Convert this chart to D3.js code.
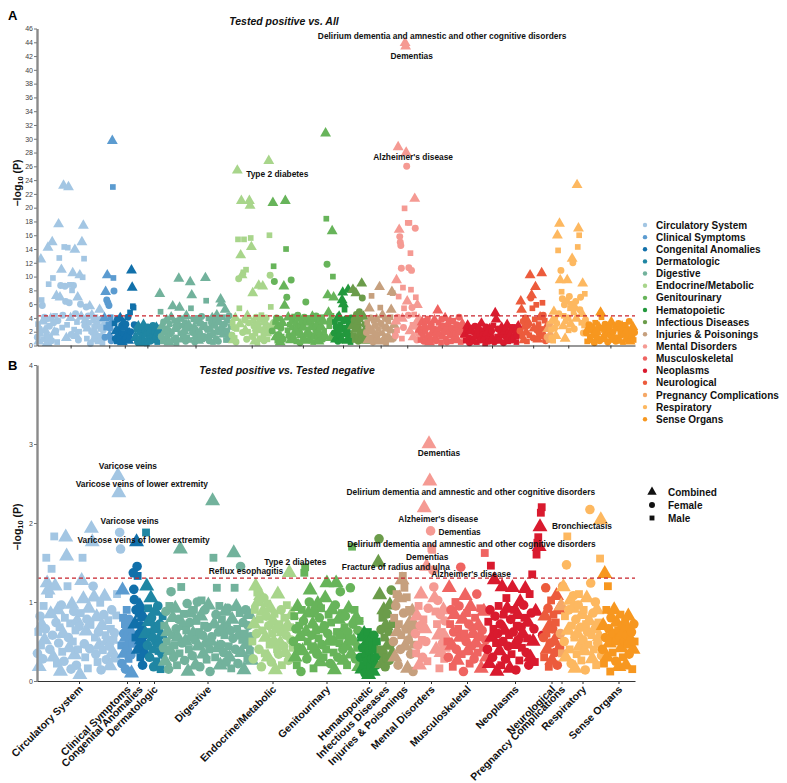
<!DOCTYPE html>
<html><head><meta charset="utf-8">
<script src="https://cdn.jsdelivr.net/npm/d3@7"></script>
<style>body{margin:0;background:#fff;font-family:"Liberation Sans",Arial,Helvetica,sans-serif}</style>
</head><body><svg id="c" width="787" height="783"></svg>
<script>
const categories = ["Circulatory System","Clinical Symptoms","Congenital Anomalies","Dermatologic","Digestive","Endocrine/Metabolic","Genitourinary","Hematopoietic","Infectious Diseases","Injuries & Poisonings","Mental Disorders","Musculoskeletal","Neoplasms","Neurological","Pregnancy Complications","Respiratory","Sense Organs"];
const colors = ["#a3c6e3","#5b9bd0","#1170aa","#1f86a3","#72b29c","#a8d58b","#67b45a","#22983d","#6b9c4a","#c6a07e","#f59a93","#ef6461","#d91a2e","#ec5b3c","#f5a867","#fdb860","#f7971f"];
const shapeLabels = ["Combined","Female","Male"];
// number of phecodes per category in each analysis
const countsA = [67,10,21,24,72,40,62,18,14,29,24,45,55,27,4,35,49];
const countsB = [84,12,12,18,89,41,67,18,15,22,32,40,56,17,3,39,33];
const ticksA = [0,2,4,6,8,10,12,14,16,18,20,22,24,26,28,30,32,34,36,38,40,42,44,46];
const ticksB = [0,1,2,3,4];
const thresholdA = 4.3, thresholdB = 1.301;
// point codes: t = Combined, c = Female, s = Male, followed by -log10(P)
const A_circ = "c1.2 s3.1 t0.6 c2.4 s1.7 t12.5 s6.6 c5.8 t3.5 s0.9 c4.1 t2.2 s3.8 c1.5 t0.4 t14.2 s8.9 c2.8 s1.2 t3.9 c0.7 t15.0 s9.8 c3.3 t1.9 s4.3 c2.1 t7.2 s0.5 c3.6 t17.6 s12.7 t7.0 c8.7 t11.0 s2.6 c4.4 t23.2 s14.3 c8.6 c6.4 t1.1 s3.0 s14.2 t23.0 c6.2 s8.8 t4.0 c1.6 s8.0 t10.5 c8.7 s2.3 t13.9 c4.6 t1.4 s3.4 t7.0 c0.8 s2.0 t10.2 c6.0 t4.2 t15.0 s9.9 t17.4 s12.6 c2.9 t3.7 c5.6 s1.0 t2.5 c4.3 s3.3 t5.7 c0.3 s2.1 t4.4 c1.9 s3.6 t0.9 c2.7 s4.1 t1.6 c3.2 s0.6 t2.9 c1.3 t5.2 s2.4 c3.8 t1.2 s0.4 c2.2 t3.0".split(" ");
const A_clin = "t4.0 c1.2 t7.8 s2.6 c6.6 t10.2 c6.2 s3.1 c5.8 t1.4 c2.5 s4.1 c0.7 t3.3 t29.7 s23.0 s9.8 c7.9".split(" ");
const A_cong = "s3.2 c1.0 t2.1 s0.6 c3.8 t1.5 s2.4 c0.9 t4.0 s1.8 c2.9 t0.5 s3.5 c1.7 t2.6 s0.8 c3.1 t1.3 s2.2 c4.1 t0.7 s1.5 s4.8 c2.0 t10.9 t8.4 s5.7 s5.5 c3.0 t1.1".split(" ");
const A_derm = "t1.2 s2.3 c0.5 t2.8 s1.0 c1.9 t0.4 s2.6 c1.4 t3.0 s0.7 c2.1 t1.6 s0.3 c2.7 t1.0 s1.8 c0.6 t2.4 s1.3 c2.9 t0.8 s2.0 c1.1 t2.6 s0.5 c1.7 t2.2".split(" ");
const A_dig = "t7.5 s4.9 c1.3 t2.8 s0.6 c3.4 t1.9 s2.5 c0.9 t3.7 s1.4 c2.2 t0.5 s3.1 c1.7 t4.1 s2.0 t5.7 c0.8 s3.6 t2.4 c1.1 s0.4 t3.3 c2.7 t9.7 t5.5 s1.8 c3.9 t0.9 s2.9 c1.5 t2.1 s3.4 c0.6 t4.3 s1.2 c2.5 t3.0 s0.8 t9.2 s5.4 t7.3 c1.9 s3.8 t2.6 c0.5 s2.3 t1.4 c3.5 s4.0 t0.7 c2.0 s1.6 t3.2 c4.2 s0.9 t2.7 c1.3 s3.0 t9.8 s6.5 c2.4 t1.1 s3.9 c0.7 t2.3 s1.5 c3.3 t4.0 s0.5 c1.8 t2.9 s3.7 c1.0 t4.4 s2.2 c0.6 t3.4 s1.9 t6.7 t6.1 c2.6 s4.1 t1.6 c3.1 t5.2 s0.8 c2.1 t3.6 s1.3 c4.3 t0.9 s2.7 c1.5".split(" ");
const A_endo = "c1.5 s3.2 t0.8 c2.6 s1.1 t4.0 c0.5 s2.4 t25.4 s15.4 c9.7 s5.4 t3.1 t13.1 t21.0 t10.2 c1.9 s10.6 s15.4 c3.7 t2.2 s11.0 c0.9 t4.3 s2.0 c3.3 t21.0 t20.3 s15.6 t14.3 c1.3 t7.6 s3.6 c2.8 t0.6 s1.7 c4.1 t2.5 s0.4 c3.0 t8.7 s2.2 c1.0 t3.8 s4.4 c2.3 t8.6 s1.4 c0.7 t3.4 s2.7 c4.0 t1.8 s0.9 c2.1 t26.8 s16.0 c10.2 s5.6 t2.9".split(" ");
const A_geni = "c2.1 t20.7 s11.5 c9.3 s3.4 t1.2 c4.0 s0.7 t2.8 c1.6 s3.9 t0.5 c2.5 s1.3 t3.3 c0.9 t8.6 t5.8 t21.0 s14.0 c7.0 s2.2 t4.1 c1.4 s3.0 t0.8 c9.5 s2.6 t3.6 c1.1 s4.2 t1.9 c3.2 s0.6 t2.4 c4.4 s1.8 t3.9 c0.4 s2.9 t1.5 c3.5 s1.0 t2.6 c4.1 t0.7 c6.3 s3.3 c1.7 t2.0 s4.0 c0.8 t3.4 s1.5 c2.7 t4.2 s0.5 c3.8 t1.3 s2.3 c4.3 t3.0 s1.2 c2.0 t0.6 s3.7 c1.5 t2.7 s4.1 c0.9 t3.5 s2.1 c1.3 t30.8 s18.4 c11.8 t7.3 t4.8 s2.8 c3.6 t1.1 s4.3 t16.6 s10.0 t7.0".split(" ");
const A_hema = "c1.8 s3.4 t0.9 c2.7 s1.3 t3.9 c0.6 s2.2 t4.2 c1.5 s3.0 t2.4 c0.8 t6.6 t7.7 t6.0 c3.6 s5.2 t1.7 s2.6 c3.9 t0.7 c2.0 t8.1 s1.4 c3.2 t2.9 s0.5 c4.0 t1.2".split(" ");
const A_infe = "t2.8 t8.1 s1.5 c3.7 s0.8 t2.3 t7.6 c4.5 s1.2 t3.3 c0.6 s2.6 c4.9 t1.8 s3.8 c0.9 t9.0 c6.9 s2.0 t4.2 c1.4 s3.1 t0.7 c2.4".split(" ");
const A_inju = "c1.9 s3.3 t0.8 c2.6 t5.4 s1.2 c4.0 s7.2 t2.1 c0.5 s3.6 t1.4 c2.9 s0.9 t3.8 c1.6 s2.4 t0.6 t8.5 s5.5 c3.2 s1.8 t4.4 c0.7 s2.7 t1.1 c3.9 s0.4 t2.5 c1.3 s3.5 t0.9 c2.2 s4.1 t5.2 t7.8 s7.6 c1.0 t3.0 s2.0".split(" ");
const A_ment = "c1.4 t3.5 t9.5 s2.2 c4.1 t28.8 s7.1 t16.8 c15.8 c15.0 c14.5 c11.2 s1.0 t3.9 s8.4 c2.6 s5.4 s19.9 t43.9 t43.4 t28.0 c26.0 t6.4 s17.8 c4.4 c11.3 s17.8 t2.1 s13.4 s8.1 c10.9 c5.5 s3.0 t1.2 c2.8 s4.5 t21.3 c17.0 s7.0 t3.3 c0.8 t5.9 s2.4 c1.7 t3.8".split(" ");
const A_musc = "t2.3 s0.8 c1.9 t3.4 s1.5 c0.6 t2.8 s2.1 c3.6 t1.0 s3.9 c1.4 t0.5 s2.6 c3.1 t1.8 s0.9 c2.4 t3.7 s1.2 c0.7 t2.0 t5.1 s3.3 c1.6 t2.5 s0.4 c3.8 t1.3 s2.9 c2.0 t4.0 s1.0 c0.5 t2.7 s3.2 c1.8 t3.5 s0.6 c2.5 t1.5 s3.6 c0.9 t2.2 s1.7 c3.0 t0.8 s2.4 c4.1 t1.9 s0.5 c2.9 t3.1 s1.4 c2.2".split(" ");
const A_neop = "t1.6 s0.7 c2.3 t2.9 s1.2 c0.4 t2.1 s2.6 c1.0 t0.6 s1.9 c2.8 t1.3 s0.5 c2.0 t2.5 s1.4 c0.8 t3.2 s2.2 c1.6 t0.9 s0.3 c2.7 t1.8 s1.1 c0.6 t2.4 s1.7 c2.1 t1.0 s2.9 c0.5 t4.7 t3.8 s1.3 c2.4 t0.7 s0.9 c1.8 t2.6 s1.5 c0.4 t2.0 s2.4 c1.2 t3.0 s0.6 c1.9 t1.4 s2.7 c0.8 t2.2 s1.0 c2.6 t1.7 s0.5 c1.4 t2.8 s2.0".split(" ");
const A_neur = "c2.1 t6.4 t5.2 s1.3 c3.5 t0.8 s2.7 c4.0 t1.9 s0.6 c2.9 t3.3 s1.5 t10.2 c6.9 t7.3 s5.4 c1.1 t2.5 s3.8 t8.5 s5.9 c2.2 t0.9 s3.1 c1.7 t4.1 s2.4 t10.5 s6.2 c4.4 t1.4 s3.6 c0.7 t2.6".split(" ");
const A_preg = "c1.2 t2.4 s0.8 c3.1 t1.6".split(" ");
const A_resp = "s2.3 c1.1 t3.6 s0.7 t4.9 c2.5 s3.9 t1.4 c3.2 t16.0 s13.8 c4.6 t17.7 t9.5 c10.9 s7.8 c6.8 t2.8 s4.3 c5.9 t1.0 s3.5 c6.5 t9.5 c4.0 s2.2 c7.1 s5.4 t3.1 c6.0 t12.6 c12.0 s4.8 c2.4 t5.5 c6.4 t3.9 t23.3 s14.3 t17.0 s16.0 c5.2 c7.0 s3.3 t4.6 t9.0 c1.8 s2.9 s7.5 c3.7".split(" ");
const A_sens = "c1.8 s0.6 t2.4 c3.0 s1.3 t0.8 c2.2 s2.8 t1.5 c0.4 s3.3 t2.0 c1.1 s1.9 t2.7 c0.7 t4.8 s4.1 c2.5 t1.2 s0.9 c3.1 t2.3 s1.6 c0.5 t1.9 s2.6 c1.4 t3.4 s0.8 c2.0 t1.0 s2.9 c0.6 t2.5 s1.2 c3.2 t0.7 s2.1 c1.5 t2.8 s0.5 c2.4 t1.7 s3.0 c0.9 t2.2 s1.4 c3.5 t0.6 s2.0 c1.3 t2.7 s0.8 c1.9".split(" ");

const B_circ = "c0.35 s0.62 t0.18 c0.82 s0.45 t0.71 c0.28 s0.95 t0.52 c0.66 s1.56 t1.24 t1.15 s1.1 c0.4 t0.85 s1.42 c0.58 t0.3 s1.83 t1.2 c0.74 s0.22 t0.9 c0.48 s0.68 t0.12 c0.96 s0.37 t0.6 c0.25 s0.8 t1.82 t1.58 s1.2 c0.55 t0.42 s0.73 c0.15 t0.97 s0.5 c0.88 t0.33 s0.64 c0.2 t0.76 s0.4 c0.69 t0.08 s0.86 t1.27 s1.56 t1.04 c0.47 s0.3 t0.63 c0.78 s0.16 t0.92 c0.41 s0.71 t1.93 t1.76 c1.2 t1.06 s0.55 c0.34 t0.81 s0.24 c0.62 t0.45 s0.99 c0.14 t0.7 s0.39 c0.84 t1.07 s0.58 c0.27 t0.51 s0.77 c0.44 t0.19 s0.66 c0.9 t0.36 s0.52 c0.61 t0.29 s0.83 s1.1 t2.6 t2.38 c1.88 c1.67".split(" ");
const B_clin = "s0.45 c0.22 t1.15 s0.8 c0.6 t0.35 s0.72 c0.15 t0.55 s0.9 c0.4 t0.68 s0.28 c0.78 t0.5 s0.62 c0.33 t0.1 s0.47 c0.58".split(" ");
const B_cong = "c1.37 c1.16 c1.03 t0.72 s0.55 c0.9 t1.76 c1.45 s1.33 t0.4 s0.85 c0.6 t0.95 s0.3 c0.7 t0.52 s0.66 c0.2 t0.81 s0.44 c0.58 t0.35".split(" ");
const B_derm = "t0.6 s1.88 t1.2 c0.45 s0.92 t0.75 c0.3 s0.62 t1.05 c0.8 s0.4 t0.55 c0.18 s0.7 t0.88 c0.5 s0.25 t0.66 c0.95 s0.38 t0.48 c0.72 s0.15 t0.58 c0.34 s0.82".split(" ");
const B_dig = "c0.42 s0.7 t0.25 c0.88 s0.5 t0.62 c0.15 s0.95 t0.38 c1.13 s0.58 t0.8 c0.3 s0.45 t0.92 c0.66 s0.2 t0.55 c0.78 s0.35 t1.67 s1.19 c0.48 t0.7 s0.85 c0.26 t0.5 s0.64 c0.98 t0.12 s0.4 c0.74 t0.86 s0.55 c0.32 t0.6 s0.9 c0.52 t0.2 s0.76 c1.0 t0.44 s0.62 c0.18 t0.82 s1.02 c0.58 t0.34 s0.7 c0.9 t0.48 s0.27 c0.68 t0.96 s0.4 c0.12 t0.5 c0.56 t2.28 s1.56 t0.72 s0.3 c0.84 s1.18 t0.42 c0.62 s0.95 t0.2 c0.46 s0.78 t0.66 c0.36 s0.58 t0.88 c0.24 s0.7 c0.92 s0.44 t0.3 c0.64 s0.16 t0.78 c0.54 t1.62 s1.18 c0.4 t0.94 s0.66 c0.22 t0.58 s0.86 c1.45 t0.36 s0.52 c0.74 t0.14 s0.6 c0.9 t0.46 s0.28 c0.7 t0.84 s0.38 c0.56 t0.26".split(" ");
const B_endo = "s0.5 c0.28 t0.72 s0.9 t1.2 c0.6 s1.12 t1.0 c0.4 s0.78 t1.08 c0.18 s0.64 t0.88 c1.05 s0.35 t0.55 c0.82 s0.98 t0.3 c0.7 s0.46 t0.92 c0.24 s0.6 t0.76 c0.5 s0.85 t0.14 c0.66 s0.4 t1.1 c0.34 s0.72 t0.48 c0.9 s0.2 t0.62 c0.44 s0.8 t0.36 c0.58 s0.96 t0.7 c0.26 t1.37 s0.68 c0.52 t0.84 s0.42".split(" ");
const B_geni = "c0.5 s0.82 t0.3 c0.66 s0.2 t0.94 c0.42 s0.7 t0.56 c0.12 s0.9 t0.38 c0.76 s1.37 s1.44 t0.62 c0.28 s0.5 t0.86 c1.0 t1.15 s0.44 c0.58 t0.72 s0.16 c0.88 t0.4 s0.64 c0.34 t0.98 s0.54 c0.8 t0.24 s0.92 c0.46 t0.66 s0.3 c0.7 t1.05 s0.4 t1.24 c0.6 s0.84 t0.5 c0.22 s0.74 t0.9 c0.52 s0.36 t0.14 c0.96 t1.24 s0.62 c0.3 t0.78 s0.48 c1.13 t0.58 s0.86 c0.4 t0.26 s0.68 c0.82 t0.44 s0.2 c0.62 t0.92 s0.54 c1.18 t0.34 s1.7 c0.72 t0.5 s0.9 c0.28 t0.8 s0.42 c0.64 t0.18 s0.76".split(" ");
const B_hema = "c0.3 s0.55 t0.15 c0.42 s0.2 t0.6 c0.1 s0.35 t0.48 c0.25 s0.62 t0.08 c0.38 s0.18 t0.52 c0.28 s0.45 t0.12 c0.58 s0.3 t0.4 c0.2 s0.5 t0.32".split(" ");
const B_infe = "t1.5 c1.8 t1.09 s0.4 c0.65 t0.22 s0.8 c0.36 t0.9 s0.55 c0.18 t0.7 s0.3 c0.85 t0.45 s0.62 c0.26 t0.96 s0.48 c1.15 t0.34 s0.72".split(" ");
const B_inju = "c0.5 s0.8 t0.3 c0.95 s1.1 t0.62 c0.2 s0.72 t1.05 c0.4 s0.58 t1.28 s1.33 c0.86 s1.18 t0.44 c0.66 s1.06 t0.16 c0.52 s0.9 t0.74 c0.34 s0.6 t0.88 c0.12 s0.46 t0.7".split(" ");
const B_ment = "c0.6 s0.35 t0.82 c0.45 s0.95 t0.2 c0.7 t1.1 s0.52 c0.3 s0.78 t2.19 t0.66 c0.5 t1.45 s0.25 c0.92 t3.0 t2.53 c1.9 s1.68 s1.66 c1.4 c1.19 t1.05 s0.88 t0.4 s0.72 c1.02 t0.58 s0.16 c0.84 t0.36 s0.62 c0.48 t0.9 s0.28 c0.76 t0.54 s0.42".split(" ");
const B_musc = "s0.5 c0.3 t1.18 s0.72 c0.9 t0.45 s0.18 c0.62 t0.84 s1.0 c0.4 t0.26 s0.66 c0.95 t0.55 c1.44 s0.34 t0.78 c0.12 s0.6 t1.08 c0.5 s0.86 t0.38 c0.72 s0.22 t0.94 c0.44 s0.68 t0.6 c0.28 s0.8 t0.48 c1.1 s0.36 t0.7 c0.56 s0.92 t0.16 c0.64 s0.42 t0.88 s1.62 c0.52 t0.3".split(" ");
const B_neop = "c0.4 s0.75 t0.22 c0.9 s1.46 t0.55 c0.3 s0.66 t1.28 c0.82 s0.48 t0.12 c0.6 s0.95 t0.38 c0.72 s0.2 t1.19 c0.5 s0.84 t0.64 c0.28 s1.05 t0.92 c0.44 s0.58 t0.16 c0.78 s0.34 t1.18 c0.62 s0.9 t0.46 c0.14 s0.7 t0.84 c0.52 s0.26 t1.0 c0.68 s0.42 t0.6 c0.96 s0.8 t1.17 c0.36 s0.54 t0.74 c0.2 s1.1 t0.3 c0.86 s1.35 t0.5 c0.66 s0.24 t0.88 s1.6 s1.75 s1.82 t1.7 t1.95 s2.13 s2.2 c0.58".split(" ");
const B_neur = "c0.55 s0.3 t0.82 c1.18 s0.6 t0.4 c0.92 s0.18 t0.7 c0.48 s1.02 t0.26 c0.66 s0.84 t0.5 c0.36 s0.74 t1.08 c0.2 s0.58 t0.9 c0.42".split(" ");
const B_preg = "c0.6 t0.95 s0.35 c1.2".split(" ");
const B_resp = "t1.19 c0.5 s0.82 t0.3 c1.47 s1.83 t0.64 c0.9 s0.4 t1.02 c0.22 s0.7 t0.92 c1.08 s0.55 t0.16 c0.78 s0.34 t0.6 c0.96 s1.1 t0.44 c0.68 s0.26 t0.84 c0.52 s0.9 t0.38 c0.14 s0.72 t1.05 c0.62 s0.46 t0.76 c2.17 c1.24 s0.58 t0.28 c0.86 s0.4 t0.66 c1.0 s0.2 t0.9 c0.48 s0.74 t0.56 s1.55 t2.04 c0.32".split(" ");
const B_sens = "c0.4 t0.7 s0.22 t1.36 c0.55 s0.9 t0.3 s1.2 c0.66 t0.48 s0.12 c0.8 t0.58 s0.36 c0.6 t0.9 s0.5 c0.25 t0.74 c0.52 s0.64 t0.18 c0.56 s0.84 t0.42 c0.7 s0.3 t0.62 c0.5 s0.76 t0.2 c0.58 s0.46 t0.82 c0.34 s0.68 t0.52 c0.62 s0.15 t0.4 c0.72 s0.5".split(" ");

const pointsA = [A_circ,A_clin,A_cong,A_derm,A_dig,A_endo,A_geni,A_hema,A_infe,A_inju,A_ment,A_musc,A_neop,A_neur,A_preg,A_resp,A_sens];
const pointsB = [B_circ,B_clin,B_cong,B_derm,B_dig,B_endo,B_geni,B_hema,B_infe,B_inju,B_ment,B_musc,B_neop,B_neur,B_preg,B_resp,B_sens];

// annotations: [category index, point code, label, dx, dy]
const annotA = [
  [10,"t43.9","Delirium dementia and amnestic and other cognitive disorders",37,-4],
  [10,"t43.4","Dementias",6,13],
  [10,"t28.0","Alzheimer's disease",7,7.5],
  [5,"t25.4","Type 2 diabetes",40,6.5]
];
const annotB = [
  [0,"t2.6","Varicose veins",10,-6.6],
  [0,"t2.38","Varicose veins of lower extremity",23,-6],
  [0,"c1.88","Varicose veins",10,-8.5],
  [0,"c1.67","Varicose veins of lower extremity",23,-6],
  [4,"c1.45","Reflux esophagitis",5.5,7.5],
  [5,"t1.37","Type 2 diabetes",6,-8],
  [10,"t3.0","Dementias",10,12],
  [10,"t2.53","Delirium dementia and amnestic and other cognitive disorders",41,14],
  [10,"t2.19","Alzheimer's disease",14,14],
  [10,"c1.9","Dementias",29,4],
  [10,"s1.68","Delirium dementia and amnestic and other cognitive disorders",40,-1],
  [10,"s1.66","Dementias",-5,10],
  [9,"s1.33","Fracture of radius and ulna",-7,-6],
  [10,"c1.4","Alzheimer's disease",38,7],
  [12,"t1.95","Bronchiectasis",42,2]
];

const svg = d3.select("#c");
const FONT = '"Liberation Sans",Arial,Helvetica,sans-serif';
const symTypes = {t:d3.symbolTriangle, c:d3.symbolCircle, s:d3.symbolSquare};
const symMul = {t:1.35, c:1.0, s:0.85};

function panel(P){
  const total = d3.sum(P.counts);
  const x = d3.scaleLinear().domain([0,total]).range([37,635]);
  const y = d3.scaleLinear().domain([P.ticks[0], P.ticks[P.ticks.length-1]]).range(P.yr);
  const cum=[0]; P.counts.forEach((c,i)=>cum.push(cum[i]+c));
  const centers = P.counts.map((c,i)=>cum[i]+c/2);
  const g = svg.append("g");
  const pts=[];
  P.points.forEach((arr,ci)=>arr.forEach((code,j)=>{
    pts.push({ci, code, sh:code[0], v:+code.slice(1), xv:cum[ci]+(j+0.5)*P.counts[ci]/arr.length});
  }));
  g.append("g").selectAll("path").data(pts).join("path")
    .attr("transform",d=>`translate(${x(d.xv)},${y(d.v)})`)
    .attr("d",d=>d3.symbol(symTypes[d.sh], P.size*symMul[d.sh])())
    .attr("fill",d=>colors[d.ci]);
  g.append("line").attr("x1",37).attr("x2",635).attr("y1",y(P.thr)).attr("y2",y(P.thr))
    .attr("stroke","#c8232c").attr("stroke-width",1.3).attr("stroke-dasharray","4,3");
  const ya = g.append("g").attr("transform","translate(37,0)").attr("color","#555")
    .call(d3.axisLeft(y).tickValues(P.ticks).tickSize(3).tickSizeOuter(0).tickFormat(d3.format("d")));
  ya.select(".domain").attr("stroke","#8a8a8a").attr("stroke-width",2.4);
  ya.selectAll(".tick line").attr("stroke","#777");
  ya.selectAll(".tick text").attr("font-size",7).attr("fill","#444").attr("font-family",FONT).attr("x",-4);
  const xa = g.append("g").attr("transform",`translate(0,${P.yr[0]})`).attr("color","#333")
    .call(d3.axisBottom(x).tickValues(centers).tickSize(3).tickSizeOuter(0).tickFormat((d,i)=>P.labels?categories[i]:""));
  xa.select(".domain").attr("stroke","#333").attr("stroke-width",1.2);
  xa.selectAll(".tick line").attr("stroke","#333");
  if(P.labels){
    xa.selectAll(".tick text").attr("x",0).attr("y",0).attr("dy",0)
      .attr("transform","translate(4,9) rotate(-45)").style("text-anchor","end")
      .attr("font-size",10.5).attr("font-weight","bold").attr("fill","#111").attr("font-family",FONT);
  }
  P.ann.forEach(a=>{
    const p = pts.find(d=>d.ci===a[0] && d.code===a[1]);
    if(!p) return;
    g.append("text").attr("x",x(p.xv)+a[3]).attr("y",y(p.v)+a[4])
      .attr("text-anchor","middle").attr("font-size",8.4).attr("font-weight","bold")
      .attr("font-family",FONT).attr("fill","#111").text(a[2]);
  });
  g.append("text").attr("x",P.title[1]).attr("y",P.title[2]).attr("text-anchor","middle")
    .attr("font-size",10.5).attr("font-weight","bold").attr("font-style","italic")
    .attr("font-family",FONT).attr("fill","#111").text(P.title[0]);
  g.append("text").attr("x",8).attr("y",P.letterY).attr("font-size",13).attr("font-weight","bold")
    .attr("font-family",FONT).text(P.letter);
  const yl = g.append("text").attr("transform",`translate(21,${P.labelY}) rotate(-90)`).attr("text-anchor","middle")
    .attr("font-size",10.5).attr("font-weight","bold").attr("font-family",FONT).attr("fill","#111");
  yl.append("tspan").text("\u2212log");
  yl.append("tspan").attr("font-size",7.5).attr("dy",2).text("10");
  yl.append("tspan").attr("dy",-2).text(" (P)");
}

panel({counts:countsA, points:pointsA, ticks:ticksA, yr:[345.5,28.5], thr:thresholdA, size:38, labels:false,
  ann:annotA, title:["Tested positive vs. All",284,25], letter:"A", letterY:20, labelY:183});
panel({counts:countsB, points:pointsB, ticks:ticksB, yr:[681,365], thr:thresholdB, size:72, labels:true,
  ann:annotB, title:["Tested positive vs. Tested negative",287,374], letter:"B", letterY:370, labelY:527});

const lg = svg.append("g");
categories.forEach((c,i)=>{
  const yy = 225 + i*12.14;
  lg.append("circle").attr("cx",645).attr("cy",yy).attr("r",2.2).attr("fill",colors[i]);
  lg.append("text").attr("x",656).attr("y",yy+3.6).attr("font-size",10).attr("font-weight","bold")
    .attr("font-family",FONT).attr("fill","#111").text(c);
});
const sl = svg.append("g");
["t","c","s"].forEach((k,i)=>{
  const yy = 492 + i*13;
  sl.append("path").attr("transform",`translate(652,${yy})`).attr("d",d3.symbol(symTypes[k], 28*symMul[k])()).attr("fill","#111");
  sl.append("text").attr("x",668).attr("y",yy+3.6).attr("font-size",10).attr("font-weight","bold")
    .attr("font-family",FONT).attr("fill","#111").text(shapeLabels[i]);
});
</script></body></html>
